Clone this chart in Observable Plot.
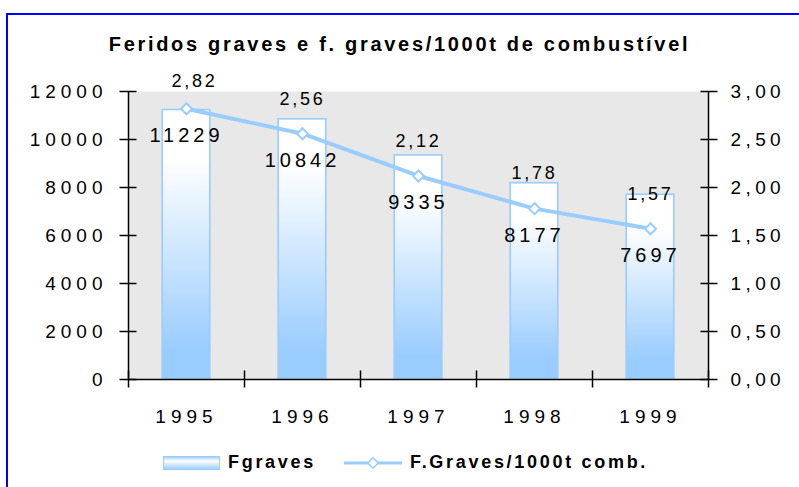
<!DOCTYPE html>
<html>
<head>
<meta charset="utf-8">
<script src="https://cdn.jsdelivr.net/npm/d3@7"></script>
<script src="https://cdn.jsdelivr.net/npm/@observablehq/plot@0.6"></script>
<style>
  html, body { margin: 0; padding: 0; background: #fff; }
  #wrap { position: relative; width: 799px; height: 487px; overflow: hidden; font-family: "Liberation Sans", Arial, sans-serif; }
  #border { position: absolute; left: 6px; top: 13px; width: 900px; height: 600px; border-left: 2px solid #0000ff; border-top: 2px solid #0000ff; box-sizing: border-box; }
  #chart { position: absolute; left: 0; top: 0; }
  #title { position: absolute; left: 0; width: 799px; top: 33px; text-align: center; font-weight: bold; font-size: 20px; letter-spacing: 2.7px; color: #000; }
  #legend { position: absolute; top: 452px; left: 163px; display: flex; align-items: center; font-weight: bold; font-size: 18px; letter-spacing: 2.7px; color: #000; }
  #legend .item { display: flex; align-items: center; }
</style>
</head>
<body>
<div id="wrap">
  <div id="border"></div>
  <div id="chart"></div>
  <div id="title">Feridos graves e f. graves/1000t de combustível</div>
  <div id="legend"></div>
</div>
<script>
const years = [1995, 1996, 1997, 1998, 1999];
const fgraves = [11229, 10842, 9335, 8177, 7697];
const rate = [2.82, 2.56, 2.12, 1.78, 1.57];
const leftTicks = [0, 2000, 4000, 6000, 8000, 10000, 12000];
const rightTicks = [0, 0.5, 1, 1.5, 2, 2.5, 3];
const seriesNames = ["Fgraves", "F.Graves/1000t comb."];

const ratio = 12000 / 3;
const data = years.map((year, i) => ({year, value: fgraves[i], rate: rate[i], r: rate[i] * ratio}));
const bounds = [years[0] - 0.5, ...years.map(y => y + 0.5)];
const comma = v => v.toFixed(2).replace(".", ",");
const blue = "#99ccff";

const defs = () => {
  const d = d3.create("svg:defs");
  const g = d.append("linearGradient").attr("id", "barGrad").attr("x1", 0).attr("y1", 0).attr("x2", 0).attr("y2", 1);
  g.append("stop").attr("offset", "0").attr("stop-color", "#ffffff");
  g.append("stop").attr("offset", "0.18").attr("stop-color", "#ffffff");
  g.append("stop").attr("offset", "0.9").attr("stop-color", blue);
  g.append("stop").attr("offset", "1").attr("stop-color", blue);
  return d.node();
};

const noText = () => "";

const chart = Plot.plot({
  width: 799,
  height: 487,
  marginLeft: 128,
  marginRight: 91,
  marginTop: 91,
  marginBottom: 108,
  x: {type: "linear", domain: [bounds[0], bounds[bounds.length - 1]], axis: null},
  y: {domain: [0, 12000], axis: null},
  style: {fontFamily: "'Liberation Sans', Arial, sans-serif", fontSize: "19px", letterSpacing: "4.4px", background: "transparent", color: "#000", overflow: "visible"},
  marks: [
    defs,
    Plot.frame({fill: "#e8e8e8", stroke: "none"}),
    Plot.rect(data, {x1: d => d.year - 0.205, x2: d => d.year + 0.205, y1: 0, y2: "value", fill: "url(#barGrad)", stroke: blue, strokeWidth: 1.6}),
    Plot.line(data, {x: "year", y: "r", stroke: blue, strokeWidth: 4}),
    Plot.dot(data, {x: "year", y: "r", symbol: "diamond2", r: 5, fill: "white", stroke: blue, strokeWidth: 2}),
    Plot.ruleX([bounds[0]], {stroke: "#000", strokeWidth: 1.5}),
    Plot.ruleX([bounds[bounds.length - 1]], {stroke: "#000", strokeWidth: 1.5}),
    Plot.ruleY([0], {stroke: "#000", strokeWidth: 1.5}),
    Plot.axisY({ticks: leftTicks, anchor: "left", tickSize: 17, dx: 8.5, tickFormat: noText, stroke: "#000", strokeWidth: 1.5, label: null}),
    Plot.axisY({ticks: leftTicks, anchor: "left", tickSize: 0, tickPadding: 21, tickFormat: d => String(d), fontSize: 19, fill: "#000", label: null}),
    Plot.axisY({ticks: rightTicks.map(v => v * ratio), anchor: "right", tickSize: 0, tickPadding: 22, tickFormat: d => comma(d / ratio), fontSize: 19, fill: "#000", label: null}),
    Plot.axisY({ticks: rightTicks.map(v => v * ratio), anchor: "right", tickSize: 17, dx: -8.5, tickFormat: noText, stroke: "#000", strokeWidth: 1.5, label: null}),
    Plot.axisX({ticks: bounds, anchor: "bottom", tickSize: 17, dy: -8.5, tickFormat: noText, stroke: "#000", strokeWidth: 1.5, label: null}),
    Plot.axisX({ticks: years, anchor: "bottom", tickSize: 0, tickPadding: 30, tickFormat: d => String(d), fontSize: 19, fill: "#000", label: null}),
    Plot.text(data.slice(0, 1), {x: "year", y: "r", text: d => comma(d.rate), dx: 8, dy: -28, fontSize: 18, fill: "#000"}),
    Plot.text(data.slice(1), {x: "year", y: "r", text: d => comma(d.rate), dy: -35, fontSize: 18, fill: "#000"}),
    Plot.text(data, {x: "year", y: "r", text: d => String(d.value), dy: 27, fontSize: 20, fill: "#000"})
  ]
});
document.getElementById("chart").appendChild(chart);

// per-group letter spacing (style only)
const textGroups = chart.querySelectorAll('g[aria-label="text"]');
if (textGroups[0]) textGroups[0].style.letterSpacing = "2.7px";
if (textGroups[1]) textGroups[1].style.letterSpacing = "2.7px";
if (textGroups[2]) textGroups[2].style.letterSpacing = "4px";
chart.querySelectorAll('g[aria-label="x-axis tick label"]').forEach(g => g.style.letterSpacing = "5px");
const yLabelGroups = chart.querySelectorAll('g[aria-label="y-axis tick label"]');
if (yLabelGroups[1]) yLabelGroups[1].style.letterSpacing = "5px";

// Legend
const legend = d3.select("#legend");
const it1 = legend.append("div").attr("class", "item");
const s1 = it1.append("svg").attr("width", 57).attr("height", 14).style("margin-right", "8px");
const lg = s1.append("defs").append("linearGradient").attr("id", "legGrad").attr("x1", 0).attr("y1", 0).attr("x2", 0).attr("y2", 1);
lg.append("stop").attr("offset", "0").attr("stop-color", blue);
lg.append("stop").attr("offset", "0.35").attr("stop-color", "#ffffff");
lg.append("stop").attr("offset", "1").attr("stop-color", blue);
s1.append("rect").attr("x", 0.5).attr("y", 0.5).attr("width", 56).attr("height", 13).attr("fill", "url(#legGrad)").attr("stroke", blue);
it1.append("span").text(seriesNames[0]);
const it2 = legend.append("div").attr("class", "item").style("margin-left", "28px");
const s2 = it2.append("svg").attr("width", 60).attr("height", 14).style("margin-right", "6px");
s2.append("line").attr("x1", 0).attr("x2", 58).attr("y1", 7).attr("y2", 7).attr("stroke", blue).attr("stroke-width", 3);
s2.append("path").attr("d", d3.symbol(d3.symbolDiamond2, 70)()).attr("transform", "translate(29,7)").attr("fill", "white").attr("stroke", blue).attr("stroke-width", 1.6);
it2.append("span").text(seriesNames[1]);
</script>
</body>
</html>
